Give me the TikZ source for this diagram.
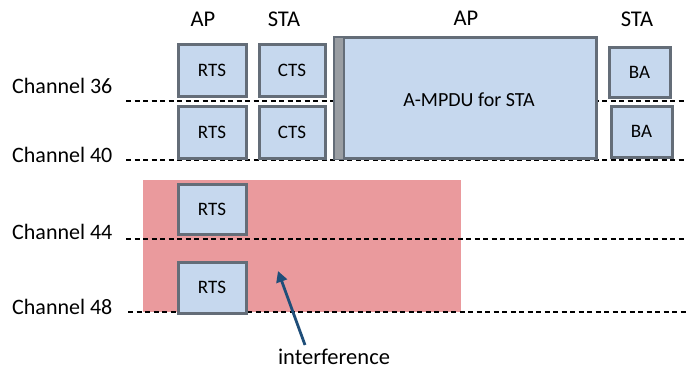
\documentclass[tikz,border=0pt]{standalone}
\usepackage{fontspec}
\setmainfont{Carlito}
\usetikzlibrary{arrows.meta}
\definecolor{boxfill}{HTML}{C6D8EE}
\definecolor{boxline}{HTML}{646D78}
\definecolor{pinkfill}{HTML}{EA9A9D}
\definecolor{arrowblue}{HTML}{1F4E79}
\definecolor{stripgray}{HTML}{9A9EA3}
\begin{document}
\begin{tikzpicture}[x=1pt,y=-1pt,
  frame/.style={draw=boxline,line width=3pt,fill=boxfill,inner sep=0pt,font=\fontsize{19}{21}\selectfont},
  biglabel/.style={inner sep=0pt,font=\fontsize{22.5}{25}\selectfont},
  chlabel/.style={inner sep=0pt,anchor=west,font=\fontsize{22}{25}\selectfont},
  chline/.style={dash pattern=on 5pt off 3.5pt,line width=1.1pt,black}]
\useasboundingbox[fill=white] (0,0) rectangle (687,370);
% pink interference area
\fill[pinkfill] (143,180) rectangle (461,312);
% dashed channel lines
\coordinate (l36a) at (126,101); \coordinate (l36b) at (687,101);
\coordinate (l40a) at (126,160); \coordinate (l40b) at (687,160);
\coordinate (l44a) at (126,239); \coordinate (l44b) at (687,239);
\coordinate (l48a) at (128,312); \coordinate (l48b) at (687,312);
\draw[chline] (l36a) -- (l36b);
\draw[chline] (l40a) -- (l40b);
\draw[chline] (l44a) -- (l44b);
\draw[chline] (l48a) -- (l48b);
% channel labels
\node[chlabel] (c36) at (12,86) {Channel 36};
\node[chlabel] (c40) at (12,155) {Channel 40};
\node[chlabel] (c44) at (12,232) {Channel 44};
\node[chlabel] (c48) at (12,307) {Channel 48};
% headers
\node[biglabel] (h1) at (203,19) {AP};
\node[biglabel] (h2) at (284,19) {STA};
\node[biglabel] (h3) at (466,18) {AP};
\node[biglabel] (h4) at (637,19) {STA};
% row boxes
\node[frame,minimum width=68pt,minimum height=52pt] (rts1) at (212,70) {RTS};
\node[frame,minimum width=66pt,minimum height=52pt] (cts1) at (292,70) {CTS};
\node[frame,minimum width=68pt,minimum height=52pt] (rts2) at (212,132) {RTS};
\node[frame,minimum width=66pt,minimum height=52pt] (cts2) at (292,132) {CTS};
\node[frame,minimum width=68pt,minimum height=50pt] (rts3) at (212,209) {RTS};
\node[frame,minimum width=68pt,minimum height=51pt] (rts4) at (212,287.5) {RTS};
% A-MPDU
\node[frame,minimum width=262pt,minimum height=121pt] (ampdu) at (465.5,98) {};
\fill[stripgray] ([xshift=1.5pt,yshift=-1.5pt]ampdu.north west) rectangle ([xshift=11pt,yshift=1.5pt]ampdu.south west);
\draw[boxline,line width=1.8pt] ([xshift=11pt,yshift=-1.5pt]ampdu.north west) -- ([xshift=11pt,yshift=1.5pt]ampdu.south west);
\node[font=\fontsize{20}{23}\selectfont,inner sep=0pt] (atext) at (469,100) {A-MPDU for STA};
% BA boxes
\node[frame,minimum width=61pt,minimum height=50pt] (ba1) at (639.5,72) {BA};
\node[frame,minimum width=61pt,minimum height=51pt] (ba2) at (641.5,131.5) {BA};
% interference arrow
\node[biglabel] (interf) at (334,357) {interference};
\coordinate (ahead) at (278,271);
\draw[arrowblue,line width=2.8pt,-{Triangle[length=11pt,width=11pt]}] (305,345) -- (ahead);
\end{tikzpicture}
\end{document}
